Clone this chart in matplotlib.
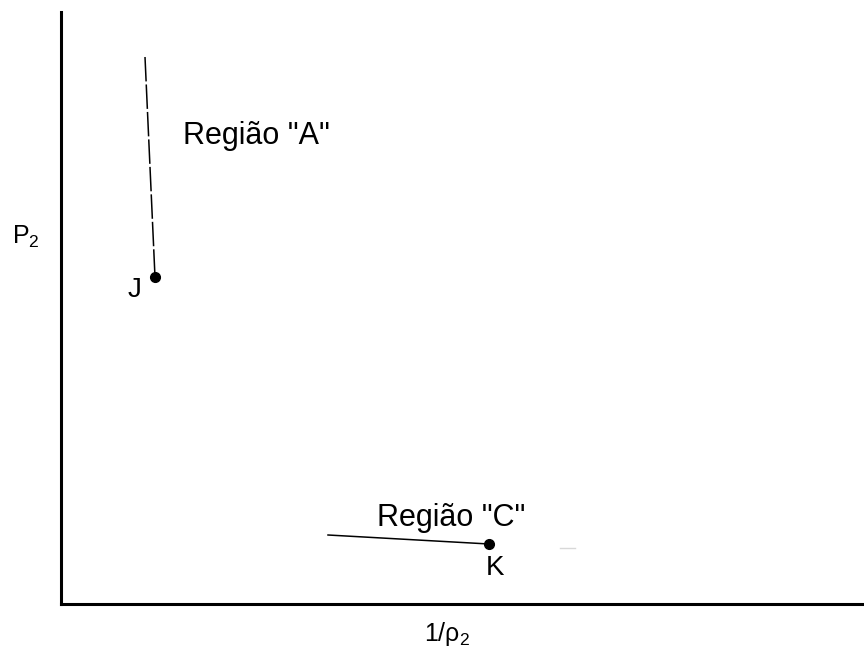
import matplotlib
matplotlib.use("Agg")
import matplotlib.pyplot as plt

plt.rcParams['font.family'] = ['Liberation Sans', 'DejaVu Sans']

# curve pieces, in axis units (origin at the corner of the axes)
region_a_x = [84, 94]
region_a_y = [547, 327]
region_c_x = [267, 428]
region_c_y = [69, 60]
faint_x = [499, 514]
faint_y = [56, 56]

point_names = ["J", "K"]
point_x = [94, 428]
point_y = [327, 60]

region_labels = ['Região "A"', 'Região "C"']
x_label = r'$\mathregular{1/ρ_2}$'
y_label = r'$\mathregular{P_2}$'

fig = plt.figure(figsize=(8.64, 6.57), dpi=100)
ax = fig.add_axes([61 / 864, 53 / 657, 803 / 864, 592 / 657])
ax.set_xlim(0, 803)
ax.set_ylim(0, 592)

ax.plot(region_a_x, region_a_y, color='black', lw=1.1, dashes=(16, 2))
ax.plot(region_c_x, region_c_y, color='black', lw=1.1)
ax.plot(faint_x, faint_y, color='#d8d8d8', lw=1.0)
ax.plot(point_x, point_y, 'o', color='black', markersize=7, clip_on=False)

ax.text(122, 460, region_labels[0], fontsize=22, va='baseline', ha='left')
ax.text(316, 78, region_labels[1], fontsize=22, va='baseline', ha='left')
ax.text(74, 307, point_names[0], fontsize=20, va='baseline', ha='center')
ax.text(434, 29, point_names[1], fontsize=20, va='baseline', ha='center')

for side in ['top', 'right']:
    ax.spines[side].set_visible(False)
for side in ['left', 'bottom']:
    ax.spines[side].set_linewidth(2.2)
ax.set_xticks([])
ax.set_yticks([])

fig.text(12 / 864, 1 - 244 / 657, y_label, fontsize=18, va='baseline', ha='left')
fig.text(447 / 864, 1 - 641 / 657, x_label, fontsize=18, va='baseline', ha='center')

fig.savefig('out.png', dpi=100)
